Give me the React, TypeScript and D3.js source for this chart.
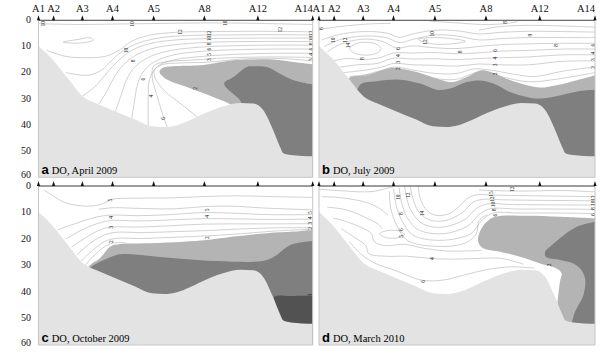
import React from 'react'
import * as d3 from 'd3'

type Pt = [number, number]
type Lbl = [number, number, string]

// stations along the transect (distance in % of section length)
const stations = ['A1', 'A2', 'A3', 'A4', 'A5', 'A8', 'A12', 'A14']
const stationDist = [0, 5.5, 16, 27, 42, 60.5, 80, 100]
const depthTicks = [0, 10, 20, 30, 40, 50, 60]

// bottom profile [dist, depth m]
const seabed: Pt[] = [
  [0, 9.8], [4.8, 14.6], [10.3, 21.7], [16.4, 29.3], [21.2, 31.8], [28.5, 35], [35, 37.8],
  [41.3, 40.5], [46, 40.8], [50.5, 40.1], [55, 38.3], [59, 36.3], [67.3, 32.9], [73.6, 31.6],
  [78.3, 31.8], [82, 34.4], [85.6, 42], [88.1, 48.4], [89.3, 50.8], [92, 51.5], [100, 52],
]

// ---- a, April 2009
const aMedium: Pt[] = [[70.5, 33], [69.9, 32.1], [63.7, 29.3], [54.1, 25.5], [46.2, 22.2], [44.1, 19.8], [45.1, 18.3], [49.1, 17.6], [58.9, 17.2], [63.7, 16.5], [71, 15.3], [78.3, 15], [85.6, 15], [92.9, 15.9], [100, 16.8]]
const aDark: Pt[] = [[74.5, 33], [73.5, 30.6], [67.7, 24.2], [71.1, 21.7], [76, 17.8], [78.4, 17.6], [83.3, 17.8], [88.1, 20.4], [93, 22.9], [100, 24.5]]
const aLines: Pt[][] = [
  [[0, 1.3], [15, 1.6], [30, 1.4], [45, 1.2], [60, 1.0], [75, 1.1], [90, 1.4], [100, 1.6]],
  [[9, 8.3], [14, 7.4], [19, 6.7], [20, 7.6], [15, 8.7], [9, 8.3]],
  [[3, 11.5], [10, 13.8], [18, 14.3], [25, 13.6], [30, 11], [34, 8], [40, 5.8], [50, 4.6], [65, 4.3], [80, 4.2], [100, 4.4]],
  [[10, 20], [18, 21], [23, 19], [27, 15], [31, 11.5], [37, 8.5], [45, 6.6], [55, 5.8], [70, 5.6], [85, 5.5], [100, 5.6]],
  [[16, 29], [21, 25], [25, 20], [29, 15.5], [34, 11.5], [41, 8.8], [50, 7.5], [62, 7], [80, 6.8], [100, 6.8]],
  [[22, 32], [25, 27], [28, 21], [32, 16], [37, 12.5], [44, 10.2], [53, 9], [65, 8.3], [80, 8.1], [100, 8.1]],
  [[28, 35], [30, 29], [32, 23], [35, 18], [40, 14.2], [47, 11.8], [56, 10.5], [68, 9.8], [85, 9.5], [100, 9.5]],
  [[34, 37.5], [35, 31], [36, 25], [38, 20], [42, 16], [49, 13.3], [58, 12], [70, 11.3], [85, 11], [100, 11]],
  [[40, 40.3], [40, 34], [40, 28], [40.5, 22.5], [43.5, 17.5], [50, 15], [60, 13.8], [72, 13], [86, 12.6], [100, 12.6]],
  [[47, 41], [45, 35], [43, 28], [41.5, 22], [42, 17.5], [47, 15.8], [56, 15.2], [68, 14.4], [84, 14], [100, 14.2]],
  [[58, 37], [52, 32], [46, 27], [42.5, 22], [42.3, 19], [45, 17], [52, 16.3], [62, 16], [74, 14.8], [88, 14.6], [100, 15.5]],
]
const aLabels: Lbl[] = [
  [1.5, 1.3, '10'], [34, 1.4, '10'], [68, 1.1, '10'], [51.5, 4.5, '12'], [88, 3.6, '12'],
  [32, 11.5, '10'], [34.5, 15.5, '8'], [38, 22.5, '6'], [41, 29, '4'], [45.5, 37.5, '6'],
  [62, 5, '12'], [62, 7, '10'], [62, 9, '8'], [62, 11, '6'], [62, 13, '5'], [62, 15, '3'], [57, 26, '2'],
  [99.5, 5, '12'], [99.5, 7, '10'], [99.5, 9, '8'], [99.5, 11, '6'], [99.5, 13, '4'], [99.5, 15, '3'],
]

// ---- b, July 2009
const bMedium: Pt[] = [[10, 25], [11.2, 21.9], [17.3, 21], [25.7, 18.2], [29.3, 18.5], [35.4, 19.8], [43.8, 22.7], [48.7, 23.6], [53.5, 21.7], [59, 19.1], [63.2, 20.1], [68, 22.3], [75.3, 24.8], [80.1, 25.7], [86.1, 24.8], [93.4, 22.9], [100, 21]]
const bDark: Pt[] = [[13, 30], [15, 24.5], [21, 23.3], [29.3, 22.7], [36.6, 24.2], [42.6, 26.5], [47.5, 26.1], [53.5, 23.6], [58.3, 23], [63.2, 24.2], [69.2, 27.4], [75.3, 29.3], [80.1, 29.9], [87.3, 28.7], [94.6, 27], [100, 26.5]]
const bLines: Pt[][] = [
  [[0, 3.5], [6, 2.6], [13, 1.8], [20, 1.3], [26, 1.2]],
  [[40, 0.3], [50, 1], [60, 1.6], [67, 1.3], [72, 0.5]],
  [[58, 3.8], [64, 2.6], [72, 2], [82, 2], [92, 2.3], [100, 2.6]],
  [[1, 7.5], [6, 5.8], [12, 4.6], [19, 4.3], [25, 5], [29, 6.5], [34, 5.2], [42, 3.8], [50, 4], [58, 5.2], [66, 4.6], [76, 4.2], [88, 4.3], [100, 4.5]],
  [[2, 10], [7, 7.6], [13, 6.3], [19, 6], [25, 6.8], [29, 8.5], [34, 7.3], [42, 5.6], [50, 6], [58, 7.5], [66, 7], [76, 6.6], [88, 6.6], [100, 6.6]],
  [[36, 7.3], [41, 6.6], [48, 7], [53, 8], [48, 9], [41, 9], [36, 7.3]],
  [[11, 10.8], [13, 9.1], [17, 8.4], [21, 9.2], [22.5, 10.8], [21, 12.5], [17, 13.3], [13, 12.6], [11, 10.8]],
  [[3, 12], [8, 9], [13, 7.6], [18, 7.2], [23, 8.1], [28, 10.5], [34, 9.8], [42, 10.5], [50, 10.8], [58, 10], [66, 9.3], [76, 9], [88, 8.8], [100, 8.8]],
  [[5, 15.5], [10, 14.6], [16, 15], [22, 14.3], [27, 12.5], [34, 12.5], [42, 12.3], [50, 12.8], [58, 12.4], [66, 11.8], [76, 11.5], [88, 11], [100, 11]],
  [[7, 18], [14, 17], [21, 16.5], [27, 14.5], [34, 14.8], [42, 14.7], [50, 15], [58, 14.6], [66, 14.3], [76, 14], [88, 13.2], [100, 13.2]],
  [[9, 20], [17, 19], [23, 17.8], [27, 16.5], [34, 17], [42, 17.2], [50, 17.5], [58, 16.7], [66, 17], [76, 17], [88, 15.7], [100, 15.5]],
  [[11, 21.5], [20, 20.3], [27, 17.9], [34, 19], [42, 20.3], [50, 20.3], [56, 18.6], [62, 19], [70, 20.5], [78, 21.5], [88, 19.5], [100, 17.8]],
  [[12, 22.5], [27, 18.5], [36, 20.5], [44, 22.5], [50, 22.5], [59, 19.5], [66, 21.5], [76, 23.5], [86, 22.5], [100, 20]],
]
const bLabels: Lbl[] = [
  [0.7, 3.2, '8'], [5.2, 7.6, '10'], [9.4, 7.6, '12'], [10.6, 9.6, '14'], [15.5, 14.6, '8'],
  [28.7, 10.8, '6'], [28.7, 13.5, '4'], [28.7, 16, '3'], [28.7, 18.5, '2'],
  [38.4, 8.3, '12'], [40.8, 5.1, '10'], [51, 12.1, '8'],
  [63.8, 11.5, '6'], [63.8, 14.5, '4'], [63.8, 17, '3'], [63.8, 20.5, '2'],
  [67.4, 0.8, '8'], [76.4, 5.7, '9'], [86, 9.6, '8'],
  [99.4, 9.5, '6'], [99.4, 12.5, '4'], [99.4, 15, '3'], [99.4, 18, '2'],
]

// ---- c, October 2009
const cMedium: Pt[] = [[18, 31], [18.8, 29.8], [22.4, 27.3], [26.1, 22.9], [29.7, 21.9], [40.7, 21.6], [52.8, 21], [61.4, 20.4], [71.1, 19.1], [83.3, 17.8], [93, 17.2], [100, 16.6]]
const cDark: Pt[] = [[18, 32], [18.8, 30.8], [22.4, 28.6], [28.5, 26], [32.2, 25.7], [40.7, 26.4], [52.8, 27.5], [65, 28.3], [78.4, 28.6], [83.3, 27.9], [86.9, 26], [91.8, 22.3], [100, 20.8]]
const cDarkest: Pt[] = [[85, 46], [86, 41.8], [92, 41.5], [100, 41.3]]
const cLines: Pt[][] = [
  [[2, 1.5], [5, 3.5], [9, 6], [14, 7.3], [20, 7.5], [24, 6.5], [27, 5], [35, 4.6], [48, 4.5], [60, 4], [72, 3.7], [85, 4], [100, 4.3]],
  [[22, 8.8], [27, 8.2], [38, 8.5], [50, 8.6], [60, 7.8], [70, 7.6], [82, 8.3], [100, 9]],
  [[7, 16.5], [14, 14], [20, 12], [26, 11], [36, 11.2], [48, 10.8], [60, 10], [72, 10.3], [84, 10.8], [100, 10.8]],
  [[10, 20], [16, 16.5], [22, 14], [27, 13], [36, 13.2], [48, 12.8], [60, 12.3], [72, 12.4], [84, 12.6], [100, 12.5]],
  [[12, 23], [18, 19], [23, 16.3], [27, 15.5], [36, 15.5], [48, 15], [60, 14.4], [72, 14.3], [84, 14.3], [100, 14.2]],
  [[14, 26], [19, 21.5], [24, 18.5], [28, 17.5], [38, 17.6], [50, 17.2], [62, 16.8], [74, 16.2], [86, 15.8], [100, 15.7]],
  [[15.5, 28.5], [20, 24], [24, 21], [28, 19.8], [38, 19.8], [50, 19.3], [62, 18.8], [74, 18], [86, 17], [100, 16.3]],
  [[17, 30], [20, 26.5], [24, 23], [27, 21.5], [32, 21.5]],
]
const cLabels: Lbl[] = [
  [26, 5.3, '5'], [26.5, 11.8, '4'], [26.5, 15.5, '3'], [26.5, 21, '2'],
  [61.5, 9, '5'], [61.5, 11.5, '4'], [61.5, 19.5, '2'],
  [99, 10, '5'], [99, 12, '4'], [99, 14, '3'], [99, 16, '2'], [99, 41, '1'],
]

// ---- d, March 2010
const dMedium: Pt[] = [[86.4, 44], [87.3, 36.1], [87.9, 33], [86.1, 31.1], [80.1, 29.2], [72.8, 26.7], [65.6, 24.8], [59.5, 23.5], [57.7, 21], [58.3, 17.2], [60.8, 13.5], [63.8, 11.6], [75.3, 11.2], [87.3, 11.6], [100, 12.2]]
const dDark: Pt[] = [[90, 56], [91.5, 51.8], [92.8, 47.4], [95.8, 41.1], [96.4, 34.8], [94.6, 31.1], [92.1, 29.2], [87.3, 27.9], [82.2, 26.7], [81.9, 24.8], [83.7, 22.9], [87.3, 19.7], [93.4, 15.4], [100, 13.5]]
const dLines: Pt[][] = [
  [[0, 1.2], [8, 1.8], [15, 2.2], [20, 2], [24, 1], [27, 0.3]],
  [[1, 4], [7, 4.3], [13, 5.2], [18, 6.5], [22, 8.5], [25, 11]],
  [[3, 8], [9, 8.8], [14, 10.5], [18, 12.5], [21, 14], [23, 16]],
  [[22, 18], [25, 16.8], [29, 17], [31, 18.3], [28, 19.6], [24, 19.4], [22, 18]],
  [[5, 12], [10, 13.5], [15, 15.5], [19, 18], [20, 21], [24, 22.5], [31, 22], [38, 23.5], [46, 24.5], [54, 24.5], [59, 24.3]],
  [[8, 16], [13, 19.5], [17, 22.5], [18, 25.5], [24, 26.5], [32, 26.5], [41, 27.4], [50, 27.6], [58, 27.3], [66, 27.3], [74, 29.5]],
  [[11, 21], [15, 25.5], [20, 29], [28, 32], [37, 35.5], [45, 35.5], [53, 33.5], [61, 31.5], [70, 30.5], [78, 31]],
  [[36, 0], [36.5, 4], [38.5, 8.5], [42, 11], [47, 10.5], [51, 7.5], [54, 4.5], [58, 3.2], [62, 3.4], [72, 3.6], [85, 3.8], [100, 4]],
  [[33, 0], [34, 4.5], [36, 9.5], [40, 12.8], [46, 13], [52, 10], [56, 6], [60, 5], [66, 5.2], [78, 5.4], [90, 5.5], [100, 5.6]],
  [[31, 0], [32, 5.5], [34, 10.5], [38, 14.5], [45, 15.5], [53, 12.5], [57, 8.5], [61, 6.8], [70, 7], [82, 7.1], [100, 7.2]],
  [[29, 0.5], [30, 6.5], [32, 12], [36, 16.5], [45, 18], [54, 15], [58, 10.8], [62, 8.6], [72, 8.7], [86, 8.7], [100, 8.8]],
  [[27, 1], [28, 7.5], [30, 13], [34, 18.5], [44, 20.5], [55, 18], [59, 13], [63, 10.2], [72, 10.2], [86, 10.2], [100, 10.4]],
  [[25.5, 2], [26, 8.5], [28, 14.5], [32, 20.5], [43, 22.8], [53, 21.5], [57, 18], [58, 13], [61, 10.8]],
  [[58, 1.5], [66, 1.8], [75, 1.9], [88, 1.7], [100, 2.2]],
]
const dLabels: Lbl[] = [
  [28.7, 4.2, '10'], [32.4, 3.5, '12'], [29.7, 10.4, '8'], [29.7, 16.5, '6'], [29.7, 19, '5'],
  [37.2, 10.4, '14'], [41, 27.4, '4'], [37.8, 36, '6'],
  [62.2, 3, '15'], [62.5, 5, '12'], [63, 7, '10'], [63.5, 9, '8'], [63.8, 11, '6'],
  [83.5, 29.8, '2'], [70, 1.2, '12'],
  [99.3, 4.5, '12'], [99.3, 6.5, '10'], [99.3, 8.5, '8'], [99.3, 10.8, '6'],
]

const zoneColors = ['#b4b4b4', '#7f7f7f', '#525252']

const panels = [
  { id: 'a', title: 'DO, April 2009', lines: aLines, labels: aLabels, zones: [aMedium, aDark], col: 0, row: 0 },
  { id: 'b', title: 'DO, July 2009', lines: bLines, labels: bLabels, zones: [bMedium, bDark], col: 1, row: 0 },
  { id: 'c', title: 'DO, October 2009', lines: cLines, labels: cLabels, zones: [cMedium, cDark, cDarkest], col: 0, row: 1 },
  { id: 'd', title: 'DO, March 2010', lines: dLines, labels: dLabels, zones: [dMedium, dDark], col: 1, row: 1 },
]

const colX = [[38.5, 312.7], [319, 595]]
const rowY = [[20.3, 177.3], [186, 345]]
const serif = '"Liberation Serif", "Times New Roman", serif'

function Panel({ p }: { p: (typeof panels)[number] }) {
  const [x0, x1] = colX[p.col]
  const [y0, y1] = rowY[p.row]
  const x = d3.scaleLinear().domain([0, 100]).range([x0, x1])
  const y = d3.scaleLinear().domain([0, 60]).range([y0, y1])
  const open = d3.line<Pt>().x(d => x(d[0])).y(d => y(d[1])).curve(d3.curveCatmullRom.alpha(0.5))
  const closed = d3.line<Pt>().x(d => x(d[0])).y(d => y(d[1])).curve(d3.curveCatmullRomClosed.alpha(0.5))
  const bed = d3.area<Pt>().x(d => x(d[0])).y0(y(60)).y1(d => y(d[1])).curve(d3.curveMonotoneX)
  const path = (pts: Pt[]) => {
    const a = pts[0], b = pts[pts.length - 1]
    return a[0] === b[0] && a[1] === b[1] ? closed(pts.slice(0, -1)) : open(pts)
  }
  // fill from the boundary down; the seabed drawn later hides the rest
  const zone = (pts: Pt[]) => open(pts) + `L${x(100)},${y(60)}L${x(pts[0][0])},${y(60)}Z`
  const clip = 'clip-' + p.id
  const last = stations.length - 1

  return (
    <g>
      <defs>
        <clipPath id={clip}>
          <rect x={x0} y={y0} width={x1 - x0} height={y1 - y0} />
        </clipPath>
      </defs>
      <g clipPath={`url(#${clip})`}>
        <rect x={x0} y={y0} width={x1 - x0} height={y1 - y0} fill="#fff" />
        {p.lines.map((l, i) => (
          <path key={i} d={path(l) || ''} fill="none" stroke="#aaaaaa" strokeWidth={0.55} />
        ))}
        {p.zones.map((z, i) => (
          <path key={i} d={zone(z)} fill={zoneColors[i]} />
        ))}
        <path d={bed(seabed) || ''} fill="#e3e3e3" />
        {p.labels.map((l, i) => (
          <text key={i} transform={`translate(${x(l[0])},${y(l[1])}) rotate(-90)`} textAnchor="middle"
            dominantBaseline="central" fontSize={5.5} fontFamily={serif} fill="#222">{l[2]}</text>
        ))}
      </g>
      <rect x={x0} y={y0} width={x1 - x0} height={y1 - y0} fill="none" stroke="#c6c6c6" strokeWidth={1} />
      <line x1={x0} x2={x1} y1={y0} y2={y0} stroke="#333" strokeWidth={0.8} />
      {stationDist.map((s, i) => (
        <path key={i} d={`M${x(s) - 1.6},${y0}L${x(s) + 1.6},${y0}L${x(s)},${y0 - 5}Z`} fill="#111" />
      ))}
      {p.row === 0 && stations.map((s, i) => (
        <text key={s} x={x(stationDist[i])} y={12}
          textAnchor={i === last ? 'end' : 'middle'} fontSize={10.5} fontFamily={serif} fill="#111">{s}</text>
      ))}
      {p.col === 0 && depthTicks.map(t => (
        <text key={t} x={31} y={y(t) - (t === 60 ? 3 : 0.8)} textAnchor="end" dominantBaseline="central" fontSize={10}
          fontFamily={serif} fill="#111">{t}</text>
      ))}
      <text x={x0 + 3} y={y1 - 3} fill="#000">
        <tspan fontFamily='"Liberation Sans", Arial, sans-serif' fontWeight="bold" fontSize={13}>{p.id}</tspan>
        <tspan fontFamily={serif} fontSize={10.5} dx={3}>{p.title}</tspan>
      </text>
    </g>
  )
}

export default function App() {
  return (
    <svg width={614} height={362} style={{ position: 'absolute', left: 0, top: 0, background: '#fff' }}>
      {panels.map(p => <Panel key={p.id} p={p} />)}
    </svg>
  )
}
